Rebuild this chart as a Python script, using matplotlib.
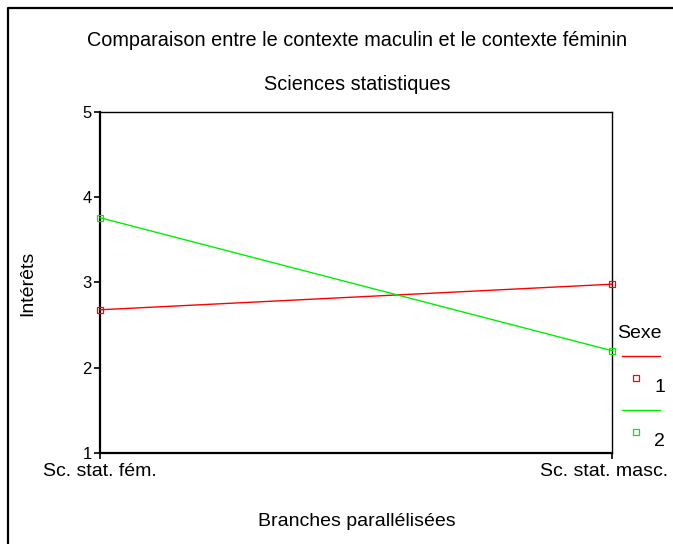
import matplotlib
matplotlib.use("Agg")
import matplotlib.pyplot as plt
from matplotlib.lines import Line2D
from matplotlib.transforms import ScaledTranslation

plt.rcParams["font.family"] = ["Liberation Sans", "DejaVu Sans"]

# moyennes des intérêts par branche et par sexe
branches = ["Sc. stat. fém.", "Sc. stat. masc."]
sexe_1 = [2.68, 2.98]
sexe_2 = [3.76, 2.20]
groupes = ["1", "2"]
couleurs = ["#ff0000", "#00ee00"]

W, H = 673, 544
fig = plt.figure(figsize=(W / 100, H / 100), dpi=100)


def fx(px):
    return px / W


def fy(py):
    return 1 - py / H


ax = fig.add_axes([fx(100), fy(453), fx(612) - fx(100), fy(112) - fy(453)])

x = list(range(len(branches)))
for vals, col in zip([sexe_1, sexe_2], couleurs):
    ax.plot(x, vals, color=col, lw=1.0, marker="s", markersize=5,
            markerfacecolor="none", markeredgecolor=col, markeredgewidth=0.9,
            clip_on=False, zorder=3)

ax.set_xlim(0, 1)
ax.set_ylim(1, 5)
ax.set_yticks([1, 2, 3, 4, 5])
ax.set_xticks(x)
ax.set_xticklabels(branches, fontsize=14)
ax.tick_params(axis="y", labelsize=12, length=4, width=1.2, pad=2)
ax.tick_params(axis="x", length=4, width=1.2, pad=3)
for side in ["left", "bottom"]:
    ax.spines[side].set_linewidth(1.6)
for side in ["top", "right"]:
    ax.spines[side].set_linewidth(1.0)

# la dernière étiquette est ramenée un peu vers la gauche pour rester dans la figure
last = ax.get_xticklabels()[-1]
last.set_transform(last.get_transform() + ScaledTranslation(-8 / 100, 0, fig.dpi_scale_trans))

fig.text(fx(28), fy(283), "Intérêts", rotation=90, ha="center", va="center", fontsize=14)

fig.text(fx(357), fy(40), "Comparaison entre le contexte maculin et le contexte féminin",
         ha="center", va="center", fontsize=14.3)
fig.text(fx(357), fy(84), "Sciences statistiques", ha="center", va="center", fontsize=14.3)
fig.text(fx(357), fy(522), "Branches parallélisées", ha="center", va="center", fontsize=14)

# légende dessinée à la main, à droite du graphique
fig.text(fx(617), fy(333), "Sexe", ha="left", va="center", fontsize=14)
for i, (g, col) in enumerate(zip(groupes, couleurs)):
    y0 = 356 + i * 54
    fig.add_artist(Line2D([fx(622), fx(660)], [fy(y0), fy(y0)], color=col, lw=1.0,
                          transform=fig.transFigure))
    fig.add_artist(Line2D([fx(636)], [fy(y0 + 22)], marker="s", markersize=5,
                          markerfacecolor="none", markeredgecolor=col,
                          markeredgewidth=0.9, transform=fig.transFigure))
    fig.text(fx(654), fy(y0 + 32), g, ha="left", va="center", fontsize=14)

# cadre extérieur (haut et gauche)
fig.add_artist(Line2D([fx(8), fx(8), fx(673)], [fy(544), fy(8), fy(8)],
                      color="black", lw=1.6, transform=fig.transFigure))

fig.savefig("out.png", dpi=100)
